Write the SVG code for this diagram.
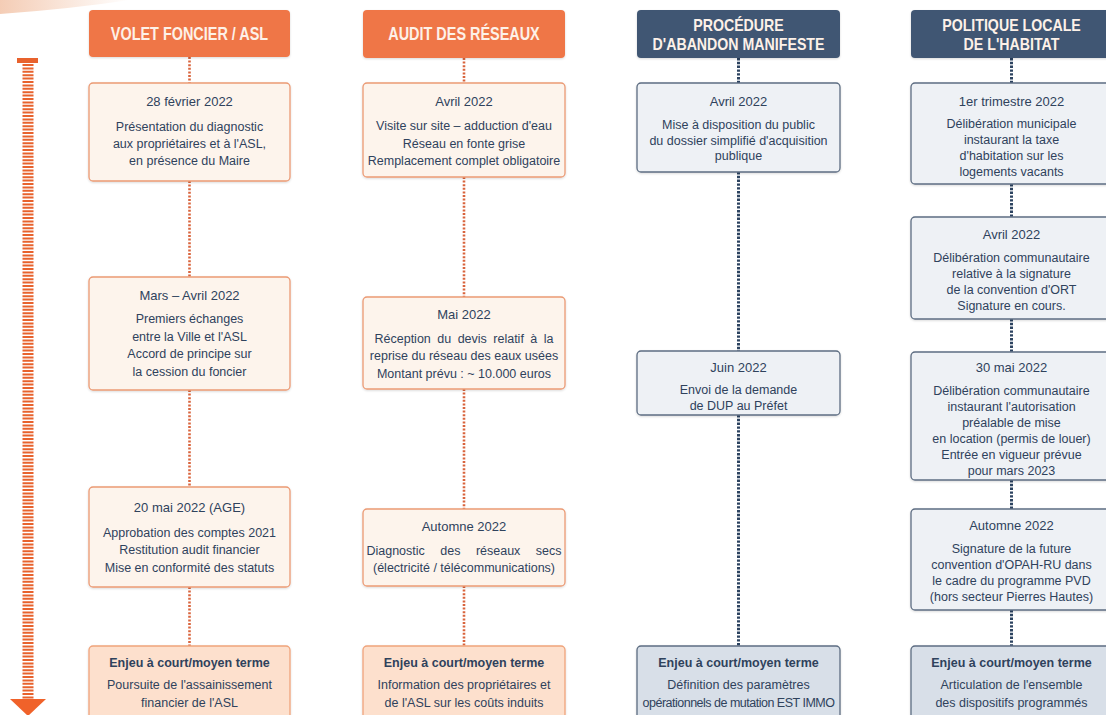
<svg xmlns="http://www.w3.org/2000/svg" width="1106" height="715" viewBox="0 0 1106 715">
<defs>
<linearGradient id="sw" x1="0" y1="0" x2="1" y2="0">
<stop offset="0" stop-color="#f3c7ad" stop-opacity="0.9"/>
<stop offset="1" stop-color="#f3c7ad" stop-opacity="0"/>
</linearGradient>
<filter id="sh" x="-5%" y="-5%" width="110%" height="115%">
<feDropShadow dx="0" dy="1" stdDeviation="1" flood-color="#000" flood-opacity="0.15"/>
</filter>
</defs>
<style>
.ho{fill:#ef7646}
.hn{fill:#3f5673}
.bo{fill:#fdf4ec;stroke:#eb9a74;stroke-width:1.3}
.bn{fill:#eef1f5;stroke:#5d6d82;stroke-width:1.3}
.eo{fill:#fde0cd;stroke:#f0a47b;stroke-width:1.3}
.en{fill:#d8dfe8;stroke:#5d6d82;stroke-width:1.3}
text{font-family:"Liberation Sans",Arial,sans-serif;fill:#2f425c;text-anchor:middle}
.ht{fill:#fdf1e8;font-size:18.5px;font-weight:bold}
.ht2{fill:#fdf1e8;font-size:16.5px;font-weight:bold}
.t{font-size:13px}
.b{font-size:12.5px}
.eb{font-size:12.5px;font-weight:bold}
.co{stroke:#d9643d;stroke-width:2.6;stroke-dasharray:2 1.6;fill:none}
.cn{stroke:#2c4360;stroke-width:3;stroke-dasharray:2.4 1.4;fill:none}
</style>
<rect width="1106" height="715" fill="#ffffff"/>
<path d="M0,0 L130,0 Q70,9 0,14 Z" fill="url(#sw)"/>
<g id="timeline-arrow">
<rect x="17" y="58" width="21" height="5" fill="#e8622d"/>
<line x1="28" y1="64" x2="28" y2="700" stroke="#e8622d" stroke-width="11" stroke-dasharray="2 1.4"/>
<polygon points="10,699 46,699 28,716" fill="#f0622a"/>
</g>
<g id="connectors">
<path class="co" d="M189.5,57V83M189.5,181V277M189.5,390V487M189.5,587V646"/>
<path class="co" d="M464,58V83M464,177V297M464,389V509M464,586V646"/>
<path class="cn" d="M738.5,58V83M738.5,172V351M738.5,415V646"/>
<path class="cn" d="M1011.5,58V83M1011.5,184V217M1011.5,319V352M1011.5,480V509M1011.5,610V646"/>
</g>
<g id="h1"><rect class="ho" x="89" y="10" width="201" height="47" rx="4" filter="url(#sh)"/>
<text class="ht" transform="translate(189.5,40) scale(0.78,1)">VOLET FONCIER / ASL</text></g>
<g id="h2"><rect class="ho" x="363" y="10" width="202" height="48" rx="4" filter="url(#sh)"/>
<text class="ht" transform="translate(464,40) scale(0.78,1)">AUDIT DES RÉSEAUX</text></g>
<g id="h3"><rect class="hn" x="637" y="10" width="203" height="48" rx="4" filter="url(#sh)"/>
<text class="ht2" transform="translate(738.5,31) scale(0.86,1)">PROCÉDURE</text>
<text class="ht2" transform="translate(738.5,50) scale(0.86,1)">D'ABANDON MANIFESTE</text></g>
<g id="h4"><rect class="hn" x="911" y="10" width="205" height="48" rx="4" filter="url(#sh)"/>
<text class="ht2" transform="translate(1011.5,31) scale(0.86,1)">POLITIQUE LOCALE</text>
<text class="ht2" transform="translate(1011.5,50) scale(0.86,1)">DE L'HABITAT</text></g>

<g id="c1b1"><rect class="bo" x="89" y="83" width="201" height="98" rx="4" filter="url(#sh)"/>
<text class="t" x="189.5" y="106">28 février 2022</text>
<text class="b" x="189.5" y="131">Présentation du diagnostic</text>
<text class="b" x="189.5" y="148">aux propriétaires et à l'ASL,</text>
<text class="b" x="189.5" y="165">en présence du Maire</text></g>
<g id="c1b2"><rect class="bo" x="89" y="277" width="201" height="113" rx="4" filter="url(#sh)"/>
<text class="t" x="189.5" y="300">Mars – Avril 2022</text>
<text class="b" x="189.5" y="323">Premiers échanges</text>
<text class="b" x="189.5" y="341">entre la Ville et l'ASL</text>
<text class="b" x="189.5" y="358">Accord de principe sur</text>
<text class="b" x="189.5" y="376">la cession du foncier</text></g>
<g id="c1b3"><rect class="bo" x="89" y="487" width="201" height="100" rx="4" filter="url(#sh)"/>
<text class="t" x="189.5" y="512">20 mai 2022 (AGE)</text>
<text class="b" x="189.5" y="537">Approbation des comptes 2021</text>
<text class="b" x="189.5" y="554">Restitution audit financier</text>
<text class="b" x="189.5" y="572">Mise en conformité des statuts</text></g>
<g id="c1e"><rect class="eo" x="89" y="646" width="201" height="80" rx="4" filter="url(#sh)"/>
<text class="eb" x="189.5" y="667">Enjeu à court/moyen terme</text>
<text class="b" x="189.5" y="689">Poursuite de l'assainissement</text>
<text class="b" x="189.5" y="707">financier de l'ASL</text></g>

<g id="c2b1"><rect class="bo" x="363" y="83" width="202" height="94" rx="4" filter="url(#sh)"/>
<text class="t" x="464" y="106">Avril 2022</text>
<text class="b" x="464" y="130">Visite sur site – adduction d'eau</text>
<text class="b" x="464" y="148">Réseau en fonte grise</text>
<text class="b" x="464" y="165">Remplacement complet obligatoire</text></g>
<g id="c2b2"><rect class="bo" x="363" y="297" width="202" height="92" rx="4" filter="url(#sh)"/>
<text class="t" x="464" y="319">Mai 2022</text>
<text class="b" x="464" y="343" word-spacing="3">Réception du devis relatif à la</text>
<text class="b" x="464" y="360">reprise du réseau des eaux usées</text>
<text class="b" x="464" y="378">Montant prévu : ~ 10.000 euros</text></g>
<g id="c2b3"><rect class="bo" x="363" y="509" width="202" height="77" rx="4" filter="url(#sh)"/>
<text class="t" x="464" y="531">Automne 2022</text>
<text class="b" x="464" y="555" word-spacing="12">Diagnostic des réseaux secs</text>
<text class="b" x="464" y="572">(électricité / télécommunications)</text></g>
<g id="c2e"><rect class="eo" x="363" y="646" width="202" height="80" rx="4" filter="url(#sh)"/>
<text class="eb" x="464" y="667">Enjeu à court/moyen terme</text>
<text class="b" x="464" y="689">Information des propriétaires et</text>
<text class="b" x="464" y="707">de l'ASL sur les coûts induits</text></g>

<g id="c3b1"><rect class="bn" x="637" y="83" width="203" height="89" rx="4" filter="url(#sh)"/>
<text class="t" x="738.5" y="106">Avril 2022</text>
<text class="b" x="738.5" y="129">Mise à disposition du public</text>
<text class="b" x="738.5" y="145">du dossier simplifié d'acquisition</text>
<text class="b" x="738.5" y="160">publique</text></g>
<g id="c3b2"><rect class="bn" x="637" y="351" width="203" height="64" rx="4" filter="url(#sh)"/>
<text class="t" x="738.5" y="372">Juin 2022</text>
<text class="b" x="738.5" y="394">Envoi de la demande</text>
<text class="b" x="738.5" y="410">de DUP au Préfet</text></g>
<g id="c3e"><rect class="en" x="637" y="646" width="203" height="80" rx="4" filter="url(#sh)"/>
<text class="eb" x="738.5" y="667">Enjeu à court/moyen terme</text>
<text class="b" x="738.5" y="689">Définition des paramètres</text>
<text class="b" x="738.5" y="707" letter-spacing="-0.5">opérationnels de mutation EST IMMO</text></g>

<g id="c4b1"><rect class="bn" x="911" y="83" width="205" height="101" rx="4" filter="url(#sh)"/>
<text class="t" x="1011.5" y="106">1er trimestre 2022</text>
<text class="b" x="1011.5" y="128">Délibération municipale</text>
<text class="b" x="1011.5" y="144">instaurant la taxe</text>
<text class="b" x="1011.5" y="160">d'habitation sur les</text>
<text class="b" x="1011.5" y="176">logements vacants</text></g>
<g id="c4b2"><rect class="bn" x="911" y="217" width="205" height="102" rx="4" filter="url(#sh)"/>
<text class="t" x="1011.5" y="239">Avril 2022</text>
<text class="b" x="1011.5" y="262">Délibération communautaire</text>
<text class="b" x="1011.5" y="278">relative à la signature</text>
<text class="b" x="1011.5" y="294">de la convention d'ORT</text>
<text class="b" x="1011.5" y="310">Signature en cours.</text></g>
<g id="c4b3"><rect class="bn" x="911" y="352" width="205" height="128" rx="4" filter="url(#sh)"/>
<text class="t" x="1011.5" y="372">30 mai 2022</text>
<text class="b" x="1011.5" y="395">Délibération communautaire</text>
<text class="b" x="1011.5" y="411">instaurant l'autorisation</text>
<text class="b" x="1011.5" y="427">préalable de mise</text>
<text class="b" x="1011.5" y="443">en location (permis de louer)</text>
<text class="b" x="1011.5" y="459">Entrée en vigueur prévue</text>
<text class="b" x="1011.5" y="475">pour mars 2023</text></g>
<g id="c4b4"><rect class="bn" x="911" y="509" width="205" height="101" rx="4" filter="url(#sh)"/>
<text class="t" x="1011.5" y="530">Automne 2022</text>
<text class="b" x="1011.5" y="553">Signature de la future</text>
<text class="b" x="1011.5" y="569">convention d'OPAH-RU dans</text>
<text class="b" x="1011.5" y="585">le cadre du programme PVD</text>
<text class="b" x="1011.5" y="601">(hors secteur Pierres Hautes)</text></g>
<g id="c4e"><rect class="en" x="911" y="646" width="205" height="80" rx="4" filter="url(#sh)"/>
<text class="eb" x="1011.5" y="667">Enjeu à court/moyen terme</text>
<text class="b" x="1011.5" y="689">Articulation de l'ensemble</text>
<text class="b" x="1011.5" y="707">des dispositifs programmés</text></g>
</svg>
